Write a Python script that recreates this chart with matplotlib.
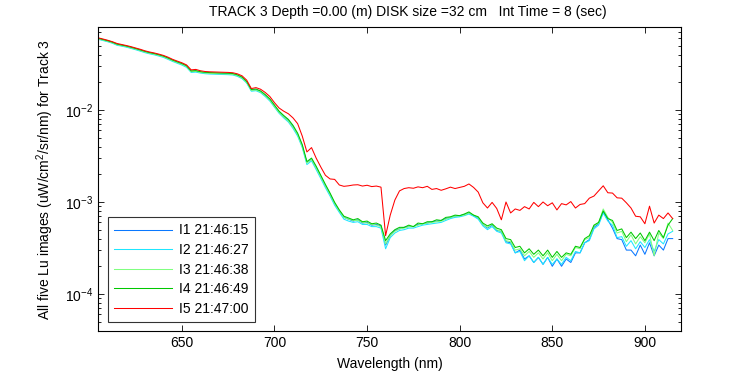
import numpy as np
import matplotlib
matplotlib.use("Agg")
import matplotlib.pyplot as plt

# spectra sampled every 2.5 nm starting at 605 nm, values in units of 1e-4 uW/cm^2/sr/nm
WL_START = 605.0
WL_STEP = 2.5
SCALE = 1e-4

labels = ["I1 21:46:15", "I2 21:46:27", "I3 21:46:38", "I4 21:46:49", "I5 21:47:00"]
colors = ["#0a78ff", "#1ee6ff", "#80ff80", "#00c800", "#ff0000"]

i1 = [593, 576, 559, 539, 513, 501, 489, 474, 459, 443,
      428, 415, 405, 393, 380, 362, 344, 329, 315, 298,
      262, 264, 257, 253, 251, 250, 249, 248, 247, 245,
      237, 224, 200, 164, 166, 158, 144, 129, 110,
      95, 85, 77, 66, 54, 41, 26.8, 29.2, 23.8, 19.0,
      15.1, 12.2, 9.6, 8.0, 6.8, 6.5, 6.2, 6.4, 5.9, 6.0,
      5.6, 5.7, 5.5, 3.4, 4.3, 4.9, 5.1, 5.3, 5.4, 5.4,
      5.7, 5.8, 5.9, 6.1, 6.2, 6.3, 6.6, 6.8, 7.0, 7.1,
      7.3, 7.6, 7.1, 6.7, 5.7, 5.2, 5.6, 4.9, 4.8, 3.7,
      3.6, 2.8, 3.0, 2.4, 2.6, 2.2, 2.5, 2.1, 2.5, 2.0,
      2.4, 2.0, 2.4, 2.2, 2.8, 2.8, 3.6, 3.9, 5.3, 5.8,
      7.8, 6.4, 5.2, 4.0, 3.9, 3.0, 3.0, 2.6, 3.4, 2.7,
      3.6, 2.6, 3.4, 3.0, 4.0, 4.0]

i2 = [585, 568, 551, 531, 505, 494, 482, 467, 452, 436,
      420, 408, 398, 386, 373, 355, 337, 322, 308, 291,
      256, 258, 252, 248, 246, 245, 244, 243, 242, 240,
      232, 219, 196, 160, 162, 154, 140, 125, 107,
      92, 82, 74, 63, 52, 39, 25.5, 28, 22.5, 18.0,
      14.3, 11.6, 9.2, 7.7, 6.5, 6.2, 6.0, 6.1, 5.7, 5.7,
      5.4, 5.4, 5.2, 3.1, 4.1, 4.6, 4.9, 5.0, 5.2, 5.2,
      5.4, 5.6, 5.7, 5.8, 5.9, 6.0, 6.3, 6.6, 6.8, 6.9,
      7.1, 7.4, 7.0, 6.5, 5.5, 5.0, 5.4, 4.8, 4.6, 3.6,
      3.5, 2.8, 2.9, 2.3, 2.6, 2.2, 2.5, 2.1, 2.5, 2.1,
      2.4, 2.1, 2.5, 2.3, 2.9, 2.8, 3.6, 3.8, 5.1, 5.6,
      7.6, 6.2, 5.6, 4.1, 4.2, 3.3, 3.8, 3.1, 3.7, 3.2,
      3.9, 2.9, 3.9, 3.5, 4.5, 4.8]

i3 = [592, 575, 558, 538, 513, 501, 489, 474, 459, 443,
      427, 414, 404, 392, 379, 361, 343, 328, 314, 297,
      261, 263, 256, 252, 250, 249, 248, 247, 246, 244,
      236, 223, 199, 163, 165, 157, 143, 128, 109,
      94, 84, 76, 65, 54, 40, 26.5, 29, 23.5, 18.8,
      15.0, 12.1, 9.6, 8.0, 6.8, 6.5, 6.3, 6.3, 6.0, 5.9,
      5.7, 5.6, 5.4, 3.5, 4.3, 4.8, 5.1, 5.2, 5.4, 5.4,
      5.6, 5.8, 5.9, 6.0, 6.1, 6.2, 6.5, 6.8, 7.0, 7.1,
      7.2, 7.6, 7.2, 6.8, 5.7, 5.3, 5.7, 5.0, 4.8, 3.8,
      3.7, 3.0, 3.1, 2.6, 2.9, 2.5, 2.8, 2.4, 2.8, 2.3,
      2.7, 2.3, 2.7, 2.6, 3.2, 3.1, 3.9, 4.1, 5.5, 5.9,
      8.4, 6.8, 6.0, 4.6, 4.8, 3.7, 4.4, 3.5, 4.2, 3.6,
      4.5, 2.6, 4.6, 4.0, 5.9, 4.9]

i4 = [600, 583, 566, 546, 520, 508, 496, 481, 466, 450,
      434, 421, 411, 399, 386, 368, 349, 334, 320, 303,
      266, 268, 261, 257, 255, 254, 253, 252, 251, 249,
      241, 228, 204, 167, 169, 161, 147, 132, 113,
      97, 87, 79, 68, 56, 42, 27.5, 30, 24.5, 19.5,
      15.5, 12.5, 9.9, 8.2, 7.0, 6.7, 6.4, 6.6, 6.1, 6.2,
      5.8, 5.9, 5.6, 3.8, 4.5, 5.0, 5.3, 5.3, 5.6, 5.4,
      5.9, 5.8, 6.1, 6.1, 6.4, 6.3, 6.8, 6.9, 7.2, 7.1,
      7.4, 7.8, 7.2, 6.9, 5.9, 5.5, 5.8, 5.2, 5.0, 4.0,
      3.9, 3.2, 3.3, 2.8, 3.1, 2.7, 3.0, 2.6, 3.0, 2.5,
      2.9, 2.5, 2.8, 2.7, 3.3, 3.2, 4.0, 4.3, 5.6, 6.0,
      8.0, 6.6, 6.3, 4.9, 5.1, 4.1, 4.7, 4.0, 4.6, 3.8,
      4.7, 3.8, 4.9, 4.1, 5.6, 6.6]

i5 = [607, 590, 572, 552, 528, 515, 502, 488, 472, 457,
      440, 427, 417, 405, 392, 375, 355, 340, 326, 309,
      273, 276, 267, 262, 260, 259, 258, 257, 256, 254,
      247, 235, 211, 171, 175, 168, 155, 140, 120,
      105, 97, 91, 82, 71, 52, 35, 39, 30, 24,
      19.5, 17.8, 17.6, 15.3, 14.8, 15.0, 15.3, 15.4, 14.9, 15.2,
      14.7, 14.9, 14.5, 4.3, 7.2, 10.5, 13.2, 14.0, 14.3, 14.1,
      14.6, 14.3, 14.8, 13.7, 14.0, 13.4, 13.9, 14.5, 14.0, 14.4,
      14.8, 15.7, 14.4, 12.8, 9.8, 8.6, 9.9, 8.5, 6.4, 10.0,
      7.6, 8.4, 8.1, 8.9, 8.4, 9.9, 8.9, 10.0, 9.1, 9.8,
      8.2, 9.6, 9.3, 10.1, 8.6, 9.4, 9.6, 11.0, 11.6, 13.2,
      15.0, 12.6, 12.5, 11.1, 11.0, 9.8, 8.6, 7.0, 6.9, 5.8,
      9.0, 5.9, 7.2, 6.6, 7.6, 6.6]

series = [i1, i2, i3, i4, i5]

plt.rcParams["font.family"] = ["Liberation Sans", "DejaVu Sans"]
plt.rcParams["mathtext.fontset"] = "custom"
plt.rcParams["mathtext.rm"] = "Liberation Sans"
plt.rcParams["font.size"] = 10

fig = plt.figure(figsize=(7.5, 3.75), dpi=100)
ax = fig.add_axes([98 / 750, 1 - 331 / 375, 583 / 750, 304 / 375])

for vals, lab, col in zip(series, labels, colors):
    v = np.array(vals) * SCALE
    wl = WL_START + WL_STEP * np.arange(len(v))
    ax.plot(wl, v, color=col, lw=0.75, label=lab)

ax.set_yscale("log")
ax.set_xlim(604.7, 919.5)
ax.set_ylim(3.96e-5, 0.0798)
ax.set_xticks([650, 700, 750, 800, 850, 900])

ax.tick_params(which="both", direction="in", top=True, right=True, labelsize=10)
ax.tick_params(which="major", length=4, width=0.6)
ax.tick_params(which="minor", length=2, width=0.6)
for sp in ax.spines.values():
    sp.set_linewidth(0.8)

ax.set_xlabel("Wavelength (nm)", fontsize=10, labelpad=5)
ax.set_ylabel("All five Lu images (uW/cm$^2$/sr/nm) for Track 3", fontsize=10, labelpad=6)
fig.text(408 / 750, 1 - 12 / 375,
         "TRACK 3 Depth =0.00 (m) DISK size =32 cm   Int Time = 8 (sec)",
         ha="center", va="center", fontsize=10)

leg = ax.legend(loc="lower left", bbox_to_anchor=(0.017, 0.03), fontsize=10,
                frameon=True, fancybox=False, handlelength=4.2, handletextpad=0.45,
                labelspacing=0.4, borderpad=0.45, borderaxespad=0)
leg.get_frame().set_edgecolor("black")
leg.get_frame().set_linewidth(0.8)

fig.savefig("out.png", dpi=100)
